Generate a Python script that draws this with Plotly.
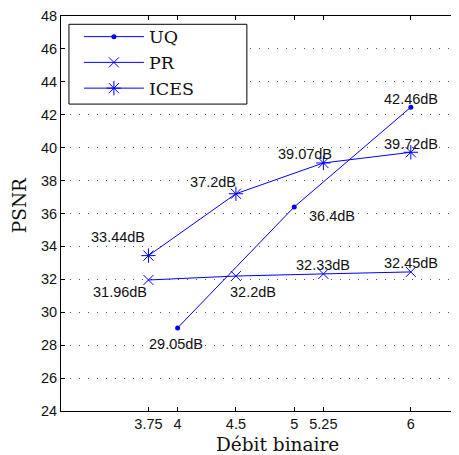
import plotly.graph_objects as go

# ---- data ----
uq_x = [4, 5, 6]
uq_y = [29.05, 36.4, 42.46]
pr_x = [3.75, 4.5, 5.25, 6]
pr_y = [31.96, 32.2, 32.33, 32.45]
ices_x = [3.75, 4.5, 5.25, 6]
ices_y = [33.44, 37.2, 39.07, 39.72]
x_ticks = [3.75, 4, 4.5, 5, 5.25, 6]
x_tick_labels = ["3.75", "4", "4.5", "5", "5.25", "6"]
y_ticks = list(range(24, 49, 2))

# label pixel offsets (xshift, yshift) per series point
uq_off = [(-2, -16), (38, -9), (0, 8)]
pr_off = [(-28, -12), (17, -16), (0, 9), (0, 9)]
ices_off = [(-30, 19), (-23, 12), (-18, 9), (0, 8)]

BLUE = "#0000ff"
SANS = "Liberation Sans, Arial, sans-serif"
SERIF = "DejaVu Serif, serif"

fig = go.Figure()
fig.add_trace(go.Scatter(x=uq_x, y=uq_y, name="UQ", mode="lines+markers",
                         line=dict(color=BLUE, width=1),
                         marker=dict(symbol="circle", size=5, color=BLUE)))
fig.add_trace(go.Scatter(x=pr_x, y=pr_y, name="PR", mode="lines+markers",
                         line=dict(color=BLUE, width=1),
                         marker=dict(symbol="x-thin-open", size=10,
                                     line=dict(color=BLUE, width=1), color=BLUE)))
fig.add_trace(go.Scatter(x=ices_x, y=ices_y, name="ICES", mode="lines+markers",
                         line=dict(color=BLUE, width=1),
                         marker=dict(symbol="asterisk-open", size=12,
                                     line=dict(color=BLUE, width=1), color=BLUE)))

def fmt(v):
    s = ("%.2f" % v).rstrip("0").rstrip(".")
    return s + "dB"

annotations = []
for xs, ys, offs in [(uq_x, uq_y, uq_off), (pr_x, pr_y, pr_off), (ices_x, ices_y, ices_off)]:
    for xv, yv, (dx, dy) in zip(xs, ys, offs):
        annotations.append(dict(x=xv, y=yv, xref="x", yref="y", text=fmt(yv),
                                showarrow=False, xshift=dx, yshift=dy,
                                xanchor="center", yanchor="middle",
                                font=dict(family=SANS, size=14.5, color="#111")))

annotations.append(dict(x=0.545, y=-0.084, xref="paper", yref="paper",
                        text="Débit binaire", showarrow=False,
                        xanchor="center", yanchor="middle",
                        font=dict(family=SERIF, size=18.5, color="#111")))
annotations.append(dict(x=-0.1055, y=0.521, xref="paper", yref="paper",
                        text="PSNR", showarrow=False, textangle=-90,
                        xanchor="center", yanchor="middle",
                        font=dict(family=SERIF, size=18.5, color="#111")))

# page body has an 8px margin: figure is drawn from (8, 8)
fig.update_layout(
    width=451, height=447,
    margin=dict(l=53, r=0, t=8, b=44),
    plot_bgcolor="white", paper_bgcolor="white",
    showlegend=True,
    legend=dict(x=0.045, y=0.993, xanchor="left", yanchor="top",
                bgcolor="rgba(0,0,0,0)", borderwidth=0,
                font=dict(family=SERIF, size=17.5, color="#111"),
                itemwidth=60, tracegroupgap=0),
    annotations=annotations,
    shapes=[dict(type="rect", xref="paper", yref="paper",
                 x0=0.02, x1=0.467, y0=0.777, y1=0.979,
                 line=dict(color="black", width=1), fillcolor="white",
                 layer="above")],
    xaxis=dict(range=[3, 6.413], tickmode="array", tickvals=x_ticks,
               ticktext=x_tick_labels, ticks="inside", ticklen=4,
               tickcolor="black", showline=True, linecolor="black",
               linewidth=1, mirror="ticks", showgrid=False, zeroline=False,
               tickfont=dict(family=SANS, size=14.5, color="#111")),
    yaxis=dict(range=[24, 48], tickmode="array", tickvals=y_ticks,
               ticks="inside", ticklen=4, tickcolor="black",
               showline=True, linecolor="black", linewidth=1,
               showgrid=True, gridcolor="#555", gridwidth=1,
               griddash="1px,8px", zeroline=False,
               tickfont=dict(family=SANS, size=14.5, color="#111")),
)

fig.write_html("out.html")
